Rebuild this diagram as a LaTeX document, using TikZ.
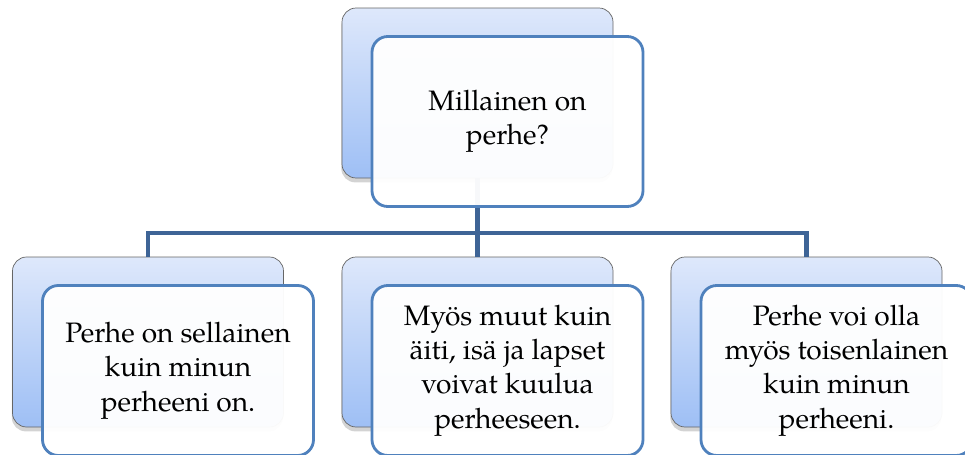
\documentclass[tikz,border=0pt]{standalone}
\usepackage{fontspec}
\setmainfont{TeX Gyre Pagella}
\usepackage{tikz}
\usetikzlibrary{positioning, calc, shadows}
\definecolor{frontblue}{RGB}{79,129,189}
\definecolor{linkblue}{RGB}{62,100,150}
\definecolor{backtop}{RGB}{222,232,251}
\definecolor{backbottom}{RGB}{158,191,245}

\begin{document}
\begin{tikzpicture}[
    backbox/.style={rectangle, rounded corners=8pt, draw=black!60, thin, top color=backtop, bottom color=backbottom, minimum width=5.42cm, minimum height=3.4cm, drop shadow={shadow xshift=-0.4pt, shadow yshift=-2.5pt, opacity=0.35}},
    frontbox/.style={rectangle, rounded corners=9pt, draw=frontblue, line width=1.6pt, fill=white, fill opacity=0.96, text opacity=1, minimum width=5.42cm, minimum height=3.4cm, align=center, font=\fontsize{16}{19.5}\selectfont},
    link/.style={draw=linkblue, line width=2.8pt, line join=miter}
]
    \useasboundingbox (0,0) rectangle (19.3,9.08);

    % Back boxes
    \node (topback) [backbox] at (9.55,7.22) {};
    \node (leftback) [backbox] at (2.96,2.24) {};
    \node (midback) [backbox] at (9.55,2.24) {};
    \node (rightback) [backbox] at (16.13,2.24) {};

    % Connectors (under the front boxes)
    \coordinate (hub) at (9.55,4.42);
    \draw [link] (topback.south) -- (hub);
    \draw [link] (leftback.north) |- (rightback.north |- hub) -- (rightback.north);
    \draw [link] (hub) -- (midback.north);

    % Front boxes
    \node (topfront) [frontbox] at ($(topback)+(0.6,-0.57)$) {Millainen on\\perhe?};
    \node (leftfront) [frontbox] at ($(leftback)+(0.6,-0.57)$) {Perhe on sellainen\\kuin minun\\perheeni on.};
    \node (midfront) [frontbox] at ($(midback)+(0.6,-0.57)$) {Myös muut kuin\\äiti, isä ja lapset\\voivat kuulua\\perheeseen.};
    \node (rightfront) [frontbox] at ($(rightback)+(0.6,-0.57)$) {Perhe voi olla\\myös toisenlainen\\kuin minun\\perheeni.};
\end{tikzpicture}
\end{document}
